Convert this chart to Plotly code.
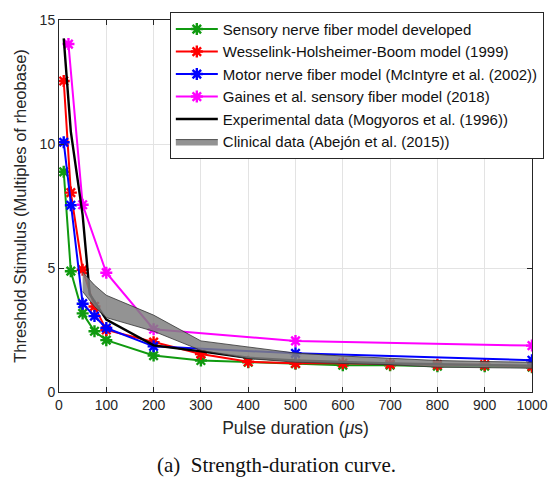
import plotly.graph_objects as go

# Pulse durations (µs) and thresholds (multiples of rheobase)
x_sensory = [10, 25, 50, 75, 100, 200, 300, 400, 500, 600, 700, 800, 900, 1000]
y_sensory = [8.88, 4.87, 3.17, 2.45, 2.09, 1.47, 1.27, 1.2, 1.14, 1.08, 1.08, 1.04, 1.04, 1.0]

x_whb = [10, 25, 50, 75, 100, 200, 300, 400, 500, 600, 700, 800, 900, 1000]
y_whb = [12.54, 8.04, 4.93, 3.45, 2.5, 2.01, 1.53, 1.22, 1.16, 1.16, 1.12, 1.1, 1.1, 1.03]

x_motor = [10, 25, 50, 75, 100, 200, 500, 1000]
y_motor = [10.07, 7.53, 3.56, 3.06, 2.58, 1.84, 1.56, 1.28]

x_gaines = [20, 50, 100, 200, 500, 1000]
y_gaines = [14.03, 7.55, 4.81, 2.53, 2.06, 1.87]

x_exp = [10, 25, 50, 65, 100, 200, 300, 400, 500, 700, 1000]
y_exp = [14.26, 10.5, 7.13, 3.95, 2.92, 1.88, 1.64, 1.38, 1.27, 1.15, 1.06]

x_clin = [50, 75, 100, 200, 300, 400, 500, 600, 700, 800, 900, 1000]
y_clin_hi = [4.84, 4.31, 3.9, 3.1, 2.06, 1.8, 1.57, 1.45, 1.36, 1.27, 1.23, 1.2]
y_clin_lo = [4.05, 3.45, 3.0, 2.45, 1.68, 1.35, 1.2, 1.15, 1.1, 1.0, 0.98, 0.96]

legend_labels = [
    "Sensory nerve fiber model developed",
    "Wesselink-Holsheimer-Boom model (1999)",
    "Motor nerve fiber model (McIntyre et al. (2002))",
    "Gaines et al. sensory fiber model (2018)",
    "Experimental data (Mogyoros et al. (1996))",
    "Clinical data (Abejón et al. (2015))",
]

x_ticks = list(range(0, 1001, 100))
y_ticks = [0, 5, 10, 15]

FONT = "Liberation Sans, Arial, sans-serif"
AXIS_INK = "#262626"

fig = go.Figure()


def model_trace(x, y, label, color):
    return go.Scatter(
        x=x, y=y, name=label, mode="lines+markers",
        line=dict(color=color, width=2),
        marker=dict(symbol="asterisk-open", size=10, color=color,
                    line=dict(color=color, width=2.4)),
    )


fig.add_trace(model_trace(x_sensory, y_sensory, legend_labels[0], "#109a10"))
fig.add_trace(model_trace(x_whb, y_whb, legend_labels[1], "#ff0000"))
fig.add_trace(model_trace(x_motor, y_motor, legend_labels[2], "#0000ff"))
fig.add_trace(model_trace(x_gaines, y_gaines, legend_labels[3], "#ff00ff"))

fig.add_trace(go.Scatter(
    x=x_exp, y=y_exp, name=legend_labels[4], mode="lines",
    line=dict(color="#000000", width=2.4),
))

# Clinical range drawn as a closed band (upper edge, then lower edge reversed)
fig.add_trace(go.Scatter(
    x=x_clin + x_clin[::-1], y=y_clin_hi + y_clin_lo[::-1],
    name=legend_labels[5], mode="lines",
    fill="toself", fillcolor="rgba(128,128,128,0.85)",
    line=dict(color="#333333", width=0.8),
))

axis_common = dict(
    showline=True, linecolor=AXIS_INK, linewidth=1, mirror="ticks",
    ticks="inside", ticklen=5, tickcolor=AXIS_INK,
    showgrid=True, gridcolor="#e3e3e3", gridwidth=1,
    zeroline=False, tickfont=dict(family=FONT, size=14, color=AXIS_INK),
)

fig.update_xaxes(
    range=[0, 1000], tickvals=x_ticks, ticktext=[str(v) for v in x_ticks],
    title=dict(text="Pulse duration (<i>μ</i>s)",
               font=dict(family=FONT, size=17.5, color=AXIS_INK), standoff=9),
    **axis_common,
)
fig.update_yaxes(
    range=[0, 15], tickvals=y_ticks, ticktext=[str(v) for v in y_ticks],
    title=dict(text="Threshold Stimulus (Multiples of rheobase)",
               font=dict(family=FONT, size=16.5, color=AXIS_INK), standoff=8),
    **axis_common,
)

fig.add_annotation(
    text="(a)  Strength-duration curve.", xref="paper", yref="paper",
    x=0.46, y=-0.196, xanchor="center", yanchor="middle", showarrow=False,
    font=dict(family="Liberation Serif, Times New Roman, serif", size=21, color="#111111"),
)

fig.update_layout(
    width=559, height=480,
    margin=dict(l=59, r=27, t=14, b=88),
    paper_bgcolor="white", plot_bgcolor="white",
    font=dict(family=FONT, color="#111111"),
    legend=dict(
        x=1.025, y=1.022, xanchor="right", yanchor="top",
        bgcolor="white", bordercolor=AXIS_INK, borderwidth=1,
        font=dict(family=FONT, size=15, color="#111111"),
        tracegroupgap=0, itemwidth=42,
    ),
)

fig.write_html("out.html")
